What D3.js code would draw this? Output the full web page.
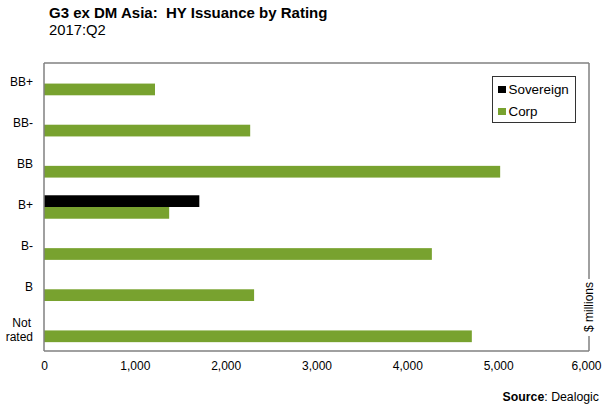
<!DOCTYPE html>
<html><head><meta charset="utf-8">
<script src="https://cdn.jsdelivr.net/npm/d3@7"></script>
<style>
body{margin:0;background:#fff;}
text{font-family:"Liberation Sans",Arial,sans-serif;}
</style></head>
<body><svg id="c" width="603" height="407"></svg>
<script>
const categories = ["BB+","BB-","BB","B+","B-","B","Not rated"];
const seriesNames = ["Sovereign","Corp"];
const sovereign = [0,0,0,1710,0,0,0];
const corp = [1222,2270,5022,1378,4270,2313,4710];
const xTicks = [0,1000,2000,3000,4000,5000,6000];
const colors = {"Sovereign":"#000000","Corp":"#78a22f"};

const svg = d3.select("#c");
const L=44, R=589, T=63, B=351;
const x = d3.scaleLinear().domain([0,6000]).range([L,R]);
const y0 = d3.scaleBand().domain(categories).range([T,B]).paddingInner(0.43).paddingOuter(0.215);
const y1 = d3.scaleBand().domain(seriesNames).range([0,y0.bandwidth()]);

// title
svg.append("text").attr("x",49).attr("y",18).attr("font-size",15).attr("font-weight","bold").attr("fill","#000")
  .attr("xml:space","preserve").text("G3 ex DM Asia:  HY Issuance by Rating");
svg.append("text").attr("x",49).attr("y",35).attr("font-size",14.8).attr("fill","#000").text("2017:Q2");

// bars
const data = categories.map((c,i)=>({cat:c, vals:[{s:"Sovereign",v:sovereign[i]},{s:"Corp",v:corp[i]}]}));
const g = svg.append("g");
data.forEach(d=>{
  d.vals.forEach(p=>{
    if(p.v<=0) return;
    g.append("rect").attr("x",x(0)).attr("y",y0(d.cat)+y1(p.s))
      .attr("width",x(p.v)-x(0)).attr("height",y1.bandwidth())
      .attr("fill",colors[p.s]);
  });
});

// frame
const frame = svg.append("g").attr("stroke","#808080").attr("stroke-width",1.5).attr("fill","none");
frame.append("line").attr("x1",L).attr("x2",R).attr("y1",T).attr("y2",T);
frame.append("line").attr("x1",L).attr("x2",L).attr("y1",T).attr("y2",B);
frame.append("line").attr("x1",L).attr("x2",R).attr("y1",B).attr("y2",B);
frame.append("line").attr("x1",R).attr("x2",R).attr("y1",T).attr("y2",279);
frame.append("line").attr("x1",R).attr("x2",R).attr("y1",336).attr("y2",B);

// right axis label
svg.append("text").attr("transform",`translate(${R+4},307) rotate(-90)`).attr("text-anchor","middle")
  .attr("font-size",12).attr("fill","#000").text("$ millions");

// x axis labels
const fmt = d3.format(",");
const xAxis = d3.axisBottom(x).tickValues(xTicks).tickFormat(fmt).tickSize(0).tickPadding(10);
const ax = svg.append("g").attr("transform",`translate(0,${B})`).call(xAxis);
ax.select(".domain").remove();
ax.selectAll("text").attr("font-size",12).attr("fill","#000").attr("font-family","Liberation Sans, Arial, sans-serif");
ax.selectAll("text").filter(d=>d===6000).attr("text-anchor","end").attr("dx",12);

// category labels
categories.forEach(c=>{
  const cy = y0(c)+y0.bandwidth()/2;
  const t = svg.append("text").attr("x",33).attr("text-anchor","end").attr("font-size",12).attr("fill","#000");
  if(c==="Not rated"){
    t.append("tspan").attr("x",31).attr("y",cy-3).text("Not");
    t.append("tspan").attr("x",33).attr("y",cy+11).text("rated");
  } else {
    t.attr("y",cy+2).text(c);
  }
});

// legend
const lg = svg.append("g");
lg.append("rect").attr("x",492.5).attr("y",76.5).attr("width",83).attr("height",46).attr("fill","#fff").attr("stroke","#333").attr("stroke-width",1);
seriesNames.forEach((s,i)=>{
  lg.append("rect").attr("x",498).attr("y",86+i*22).attr("width",8).attr("height",7).attr("fill",colors[s]);
  lg.append("text").attr("x",508.5).attr("y",94+i*22).attr("font-size",13.4).attr("fill","#000").text(s);
});

// source
const st = svg.append("text").attr("x",599).attr("y",401).attr("text-anchor","end").attr("font-size",12.3).attr("fill","#000");
st.append("tspan").attr("font-weight","bold").text("Source");
st.append("tspan").text(": Dealogic");
</script></body></html>
